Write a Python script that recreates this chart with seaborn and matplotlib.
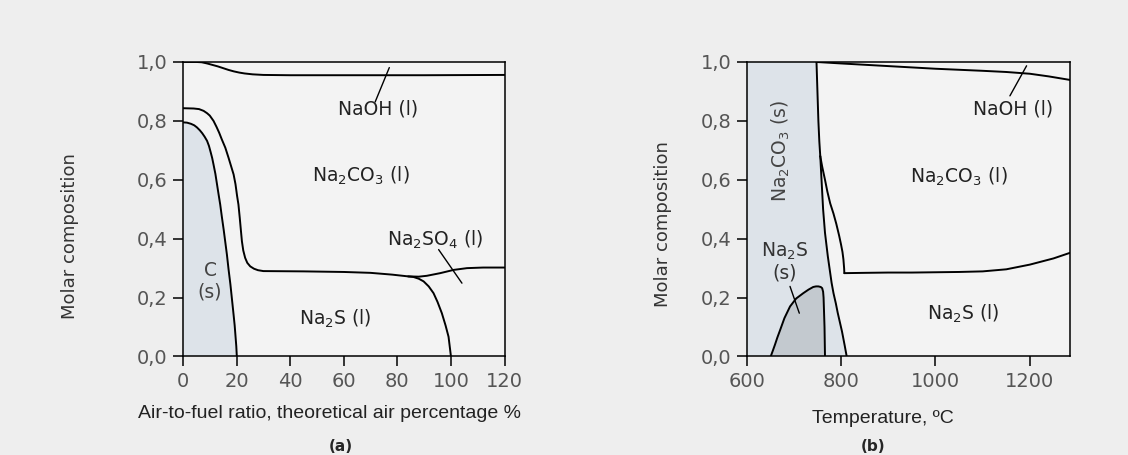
# Phase diagrams of smelt composition: (a) vs air-to-fuel ratio, (b) vs temperature
import matplotlib
matplotlib.use("Agg")
import matplotlib.pyplot as plt
import seaborn as sns
from matplotlib import font_manager
from matplotlib.ticker import FuncFormatter

# ─── DATA: panel (a) ─────────────────────────────────────────────────────────
naoh_a_x = [0, 5, 7, 9, 11, 13, 15, 17, 19, 21, 23, 26, 30, 40, 60, 90, 120]
naoh_a_y = [1.0, 1.0, 0.999, 0.995, 0.99, 0.985, 0.979, 0.973, 0.968, 0.964, 0.961,
            0.958, 0.956, 0.955, 0.955, 0.955, 0.956]

carb_a_x = [0, 4, 6, 7.7, 9, 10, 11.4, 12.5, 13.5, 14.5, 15.8, 17, 18, 18.9, 19.6, 20.2,
            20.7, 21.2, 21.6, 22, 22.5, 23.2, 24, 25.1, 26.5, 28, 30, 45, 60, 70, 78,
            84, 88, 91, 96, 101, 106, 112, 120]
carb_a_y = [0.843, 0.842, 0.84, 0.834, 0.826, 0.818, 0.80, 0.78, 0.76, 0.737, 0.709,
            0.675, 0.645, 0.618, 0.585, 0.545, 0.516, 0.47, 0.43, 0.391, 0.36, 0.335,
            0.318, 0.306, 0.298, 0.293, 0.29, 0.289, 0.287, 0.284, 0.278, 0.272, 0.271,
            0.274, 0.283, 0.294, 0.300, 0.302, 0.302]

carbon_a_x = [0, 1.5, 3, 4.2, 5.2, 6.3, 7.2, 8.1, 9, 9.7, 10.3, 10.9, 11.4, 12.1, 12.7,
              13.3, 13.9, 14.5, 15.2, 15.8, 16.4, 17, 17.7, 18.3, 18.9, 19.3, 19.6,
              19.9, 20.1]
carbon_a_y = [0.795, 0.794, 0.79, 0.785, 0.778, 0.768, 0.758, 0.746, 0.732, 0.715, 0.695,
              0.674, 0.652, 0.62, 0.585, 0.55, 0.516, 0.475, 0.43, 0.388, 0.346, 0.297,
              0.245, 0.193, 0.141, 0.105, 0.07, 0.035, 0.0]

sulf_a_x = [84, 86, 88, 89.8, 91.7, 93.5, 95, 96.6, 98, 99.1, 100]
sulf_a_y = [0.272, 0.27, 0.264, 0.255, 0.238, 0.215, 0.185, 0.147, 0.105, 0.067, 0.0]

# ─── DATA: panel (b) ─────────────────────────────────────────────────────────
naoh_b_x = [748, 800, 900, 1000, 1100, 1150, 1200, 1240, 1285]
naoh_b_y = [1.0, 0.995, 0.986, 0.977, 0.970, 0.966, 0.960, 0.951, 0.939]

top_b_x = [748, 750, 752, 754, 756]        # solid carbonate edge, upper part
top_b_y = [1.0, 0.9, 0.8, 0.73, 0.68]

liq_b_x = [756, 760, 766, 771, 777, 784, 790, 796, 800, 803, 805, 806.5, 807]
liq_b_y = [0.68, 0.645, 0.60, 0.56, 0.52, 0.485, 0.45, 0.41, 0.38, 0.355, 0.33, 0.30, 0.283]

sol_b_x = [756, 757.5, 759, 760.5, 762, 764, 766, 769, 772, 776, 780, 784, 789, 793, 798,
           802, 805, 808, 812]
sol_b_y = [0.68, 0.635, 0.59, 0.545, 0.50, 0.46, 0.42, 0.38, 0.34, 0.295, 0.25, 0.215,
           0.18, 0.148, 0.113, 0.085, 0.06, 0.035, 0.0]

split_b_x = [807, 850, 900, 950, 1000, 1050, 1100, 1150, 1200, 1250, 1285]
split_b_y = [0.283, 0.284, 0.285, 0.285, 0.286, 0.287, 0.289, 0.296, 0.312, 0.333, 0.352]

dome_b_x = [651, 656, 660, 665, 671, 680, 692, 705, 720, 731, 741, 747, 752, 757, 760,
            762, 763, 764, 765, 766]
dome_b_y = [0.0, 0.022, 0.04, 0.064, 0.09, 0.13, 0.17, 0.197, 0.215, 0.227, 0.236, 0.238,
            0.238, 0.236, 0.232, 0.22, 0.2, 0.15, 0.1, 0.0]

y_ticks = [0.0, 0.2, 0.4, 0.6, 0.8, 1.0]
x_ticks_a = [0, 20, 40, 60, 80, 100, 120]
x_ticks_b = [600, 800, 1000, 1200]

# ─── STYLE ───────────────────────────────────────────────────────────────────
sns.set_theme(style="ticks")
plt.rcParams["font.family"] = ["DejaVu Sans"]
plt.rcParams["mathtext.default"] = "regular"

names = {f.name for f in font_manager.fontManager.ttflist}
if "Liberation Sans Narrow" in names:
    xl_family, xl_size = "Liberation Sans Narrow", 16.5
else:
    xl_family, xl_size = "Liberation Sans", 14

BG = "#eeeeee"
FILL = "#dde3e9"
DOME = "#c3c9cf"
LW = 1.4
TXT = 13.5

fig = plt.figure(figsize=(11.28, 4.55), dpi=100, facecolor=BG)
ax_a = fig.add_axes([0.1622, 0.2165, 0.2851, 0.6473])
ax_b = fig.add_axes([0.6619, 0.2165, 0.2867, 0.6473])

comma = FuncFormatter(lambda v, p: f"{v:.1f}".replace(".", ","))

for ax in (ax_a, ax_b):
    ax.set_facecolor("#f3f3f3")
    for s in ax.spines.values():
        s.set_visible(True)
        s.set_color("black")
        s.set_linewidth(1.1)
    ax.tick_params(direction="out", length=7, width=1.1, labelsize=14,
                   labelcolor="#555555", color="black", pad=4)
    ax.set_ylim(0, 1.0)
    ax.set_yticks(y_ticks)
    ax.yaxis.set_major_formatter(comma)
    ax.set_ylabel("Molar composition", fontsize=13, color="#333333")


def line(ax, x, y, lw=LW):
    sns.lineplot(x=x, y=y, ax=ax, color="black", linewidth=lw,
                 sort=False, estimator=None, legend=False)


# ─── PANEL (a) ───────────────────────────────────────────────────────────────
ax_a.fill([0] + carbon_a_x, [0] + carbon_a_y, color=FILL, lw=0, zorder=1)
line(ax_a, naoh_a_x, naoh_a_y)
line(ax_a, carb_a_x, carb_a_y)
line(ax_a, carbon_a_x, carbon_a_y)
line(ax_a, sulf_a_x, sulf_a_y)
line(ax_a, [71.7, 77], [0.864, 0.981], lw=1.0)
line(ax_a, [95.4, 104.1], [0.363, 0.249], lw=1.0)

ax_a.set_xlim(0, 120)
ax_a.set_xticks(x_ticks_a)
ax_a.text(72.7, 0.84, "NaOH (l)", ha="center", va="center", fontsize=TXT, color="#222222")
ax_a.text(66.3, 0.614, "Na$_2$CO$_3$ (l)", ha="center", va="center", fontsize=TXT, color="#222222")
ax_a.text(94, 0.395, "Na$_2$SO$_4$ (l)", ha="center", va="center", fontsize=TXT, color="#222222")
ax_a.text(56.7, 0.128, "Na$_2$S (l)", ha="center", va="center", fontsize=TXT, color="#222222")
ax_a.text(10.1, 0.255, "C\n(s)", ha="center", va="center", fontsize=TXT, color="#444444",
          linespacing=1.15)
ax_a.set_xlabel("Air-to-fuel ratio, theoretical air percentage %", family=xl_family,
                fontsize=xl_size, color="#222222")
ax_a.xaxis.set_label_coords(0.457, -0.165)
ax_a.yaxis.set_label_coords(-0.323, 0.408)

# ─── PANEL (b) ───────────────────────────────────────────────────────────────
ax_b.fill([600, 600] + top_b_x + sol_b_x[1:], [0, 1.0] + top_b_y + sol_b_y[1:],
          color=FILL, lw=0, zorder=1)
ax_b.fill(dome_b_x, dome_b_y, color=DOME, lw=0, zorder=1)
line(ax_b, naoh_b_x, naoh_b_y)
line(ax_b, top_b_x, top_b_y)
line(ax_b, liq_b_x, liq_b_y)
line(ax_b, sol_b_x, sol_b_y)
line(ax_b, split_b_x, split_b_y)
line(ax_b, dome_b_x, dome_b_y)
line(ax_b, [1157.7, 1193], [0.885, 0.987], lw=1.0)
line(ax_b, [691.9, 711.6], [0.238, 0.147], lw=1.0)

ax_b.set_xlim(600, 1285)
ax_b.set_xticks(x_ticks_b)
ax_b.text(1164, 0.84, "NaOH (l)", ha="center", va="center", fontsize=TXT, color="#222222")
ax_b.text(1049, 0.611, "Na$_2$CO$_3$ (l)", ha="center", va="center", fontsize=TXT, color="#222222")
ax_b.text(1058, 0.144, "Na$_2$S (l)", ha="center", va="center", fontsize=TXT, color="#222222")
ax_b.text(680.6, 0.322, "Na$_2$S\n(s)", ha="center", va="center", fontsize=TXT, color="#333333",
          linespacing=1.1)
ax_b.text(673, 0.698, "Na$_2$CO$_3$ (s)", ha="center", va="center", rotation=90,
          fontsize=TXT, color="#444444")
ax_b.set_xlabel("Temperature, ºC", family=xl_family, fontsize=xl_size, color="#222222")
ax_b.xaxis.set_label_coords(0.42, -0.182)
ax_b.yaxis.set_label_coords(-0.231, 0.448)

fig.text(341 / 1128, 0.018, "(a)", ha="center", va="center", fontsize=11, fontweight="bold")
fig.text(873 / 1128, 0.018, "(b)", ha="center", va="center", fontsize=11, fontweight="bold")

fig.savefig("out.png", dpi=100, facecolor=BG)
